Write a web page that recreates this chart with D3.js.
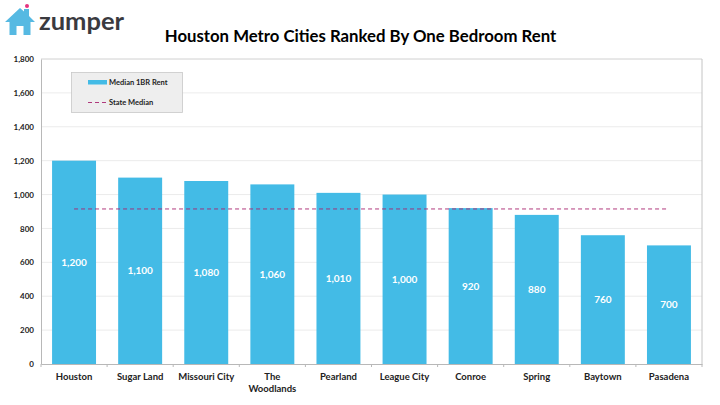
<!DOCTYPE html>
<html>
<head>
<meta charset="utf-8">
<script src="https://cdn.jsdelivr.net/npm/d3@7"></script>
<style>
  html, body { margin: 0; padding: 0; background: #fff; }
  svg { display: block; }
  text { font-family: "Lato", "Liberation Sans", sans-serif; }
</style>
</head>
<body>
<svg></svg>
<script>
var cities = ["Houston", "Sugar Land", "Missouri City", "The Woodlands", "Pearland",
              "League City", "Conroe", "Spring", "Baytown", "Pasadena"];
var rents = [1200, 1100, 1080, 1060, 1010, 1000, 920, 880, 760, 700];
var stateMedian = [915, 915, 915, 915, 915, 915, 915, 915, 915, 915];
var yTicks = [0, 200, 400, 600, 800, 1000, 1200, 1400, 1600, 1800];

var svgWidth = 720, svgHeight = 405;
var svg = d3.select("svg")
    .attr("width", svgWidth)
    .attr("height", svgHeight);

var left = 41, right = 702, top0 = 59, bottom = 364;
var blue = "#43bbe6", purple = "#a8246e";

var x = d3.scaleBand().domain(cities).range([left, right]).paddingInner(0.335).paddingOuter(0.1675);
var y = d3.scaleLinear().domain([0, 1800]).range([bottom, top0]);

// title
svg.append("text")
    .attr("x", 360.5).attr("y", 42)
    .attr("text-anchor", "middle")
    .attr("font-size", 16.75)
    .attr("font-weight", 700)
    .attr("fill", "#000")
    .text("Houston Metro Cities Ranked By One Bedroom Rent");

// logo
var logo = svg.append("g");
logo.append("path")
    .attr("d", "M5 22 L20 8 L24 11.5 L24 9 L29 9 L29 16 L35 22 L30.5 22 L30.5 35 L23.5 35 L23.5 26 L16.5 26 L16.5 35 L9.5 35 L9.5 22 Z")
    .attr("fill", "#56b9e2");
logo.append("circle").attr("cx", 27).attr("cy", 6).attr("r", 2).attr("fill", "#e6337f");
logo.append("text")
    .attr("x", 39).attr("y", 30)
    .attr("font-size", 25.5)
    .attr("font-weight", 700)
    .attr("fill", "#3a3a3f")
    .text("zumper");

// gridlines
svg.append("g").selectAll("line")
    .data(yTicks.filter(function(d) { return d > 0; }))
    .enter().append("line")
    .attr("x1", left).attr("x2", right)
    .attr("y1", function(d) { return y(d); })
    .attr("y2", function(d) { return y(d); })
    .attr("stroke", function(d) { return d == 1800 ? "#c4c4c4" : "#e6e6e6"; })
    .attr("stroke-width", 0.8);

// right border
svg.append("line")
    .attr("x1", right).attr("x2", right)
    .attr("y1", top0).attr("y2", bottom)
    .attr("stroke", "#c4c4c4");

// bars
svg.append("g").selectAll("rect")
    .data(cities)
    .enter().append("rect")
    .attr("x", function(d) { return x(d); })
    .attr("width", x.bandwidth())
    .attr("y", function(d, i) { return y(rents[i]); })
    .attr("height", function(d, i) { return bottom - y(rents[i]); })
    .attr("fill", blue);

// value labels, in the middle of each bar
svg.append("g").selectAll("text")
    .data(cities)
    .enter().append("text")
    .attr("x", function(d) { return x(d) + x.bandwidth() / 2; })
    .attr("y", function(d, i) { return y(rents[i] / 2) + 3.5; })
    .attr("text-anchor", "middle")
    .attr("font-size", 10)
    .attr("font-weight", 700)
    .attr("fill", "#fff")
    .text(function(d, i) { return d3.format(",")(rents[i]); });

// state median line
var line = d3.line()
    .x(function(d, i) { return x(cities[i]) + x.bandwidth() / 2; })
    .y(function(d) { return y(d); });
svg.append("path")
    .attr("d", line(stateMedian))
    .attr("fill", "none")
    .attr("stroke", purple)
    .attr("stroke-width", 0.9)
    .attr("stroke-dasharray", "4,3");

// axes
var yAxis = svg.append("g")
    .attr("transform", "translate(" + left + ",0)")
    .call(d3.axisLeft(y).tickValues(yTicks).tickFormat(d3.format(",")).tickSize(0).tickPadding(7));
yAxis.select(".domain").attr("stroke", "#b8b8b8");
yAxis.selectAll("text")
    .attr("font-size", 8)
    .attr("font-weight", 700)
    .attr("fill", "#222")
    .style("font-family", "Lato, sans-serif");

var xAxis = svg.append("g")
    .attr("transform", "translate(0," + bottom + ")")
    .call(d3.axisBottom(x).tickSize(0).tickPadding(9));
xAxis.select(".domain").attr("stroke", "#b8b8b8");
xAxis.selectAll(".tick text").remove();
xAxis.selectAll(".tick line").remove();

// tick marks between the categories
xAxis.selectAll(".sep")
    .data(d3.range(cities.length + 1))
    .enter().append("line")
    .attr("x1", function(d) { return left + d * x.step(); })
    .attr("x2", function(d) { return left + d * x.step(); })
    .attr("y1", 0).attr("y2", 3)
    .attr("stroke", "#b8b8b8");

// category labels, wrapped where the original wraps
var catLabels = svg.append("g").selectAll("text")
    .data(cities)
    .enter().append("text")
    .attr("text-anchor", "middle")
    .attr("font-size", 9.5)
    .attr("font-weight", 700)
    .attr("fill", "#222");
catLabels.each(function(d) {
  var parts = d == "The Woodlands" ? ["The", "Woodlands"] : [d];
  var t = d3.select(this);
  parts.forEach(function(p, i) {
    t.append("tspan")
      .attr("x", x(d) + x.bandwidth() / 2)
      .attr("y", 380 + i * 11.5)
      .text(p);
  });
});

// legend
var legend = svg.append("g");
legend.append("rect")
    .attr("x", 71.5).attr("y", 72.5).attr("width", 111).attr("height", 40)
    .attr("fill", "#eeeeee").attr("stroke", "#c8c8c8").attr("stroke-width", 0.8);
legend.append("rect")
    .attr("x", 88).attr("y", 80).attr("width", 19).attr("height", 4.5)
    .attr("fill", blue);
legend.append("line")
    .attr("x1", 88).attr("x2", 106).attr("y1", 102.5).attr("y2", 102.5)
    .attr("stroke", purple).attr("stroke-width", 0.9).attr("stroke-dasharray", "4,3");
legend.append("text")
    .attr("x", 109).attr("y", 85)
    .attr("font-size", 7.5).attr("font-weight", 700).attr("fill", "#222")
    .text("Median 1BR Rent");
legend.append("text")
    .attr("x", 109).attr("y", 105)
    .attr("font-size", 7.5).attr("font-weight", 700).attr("fill", "#222")
    .text("State Median");
</script>
</body>
</html>
